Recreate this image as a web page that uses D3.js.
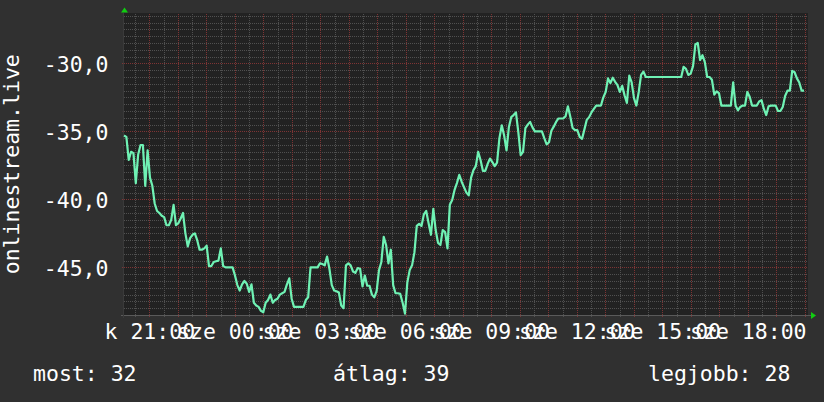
<!DOCTYPE html>
<html><head><meta charset="utf-8">
<script src="https://cdn.jsdelivr.net/npm/d3@7"></script>
<style>
html,body{margin:0;padding:0;background:#303030;}
svg{display:block;}
text{font-family:"DejaVu Sans Mono",monospace;fill:#ffffff;}
</style></head><body>
<svg id="c" width="824" height="402"></svg>
<script>
// ---- data ----
const yTitle = "onlinestream.live";
const values = [
-35.3,-35.4,-37.1,-36.5,-36.6,-38.8,-36.7,-36.0,-36.0,-39.0,
-36.4,-38.4,-39.0,-40.3,-40.85,-41.0,-41.2,-41.3,-41.9,-41.9,
-41.5,-40.4,-41.9,-41.75,-41.4,-41.0,-42.5,-43.45,-42.85,-42.6,
-42.5,-43.0,-43.7,-43.7,-43.6,-43.4,-44.9,-44.9,-44.6,-44.55,
-44.5,-43.6,-44.9,-45.0,-45.0,-45.0,-45.0,-45.6,-46.3,-46.7,
-46.25,-46.0,-46.2,-46.8,-46.25,-47.6,-47.8,-47.9,-48.2,-48.3,
-47.6,-47.4,-47.0,-47.6,-47.4,-47.3,-47.0,-46.9,-46.8,-46.25,
-45.8,-47.3,-47.9,-47.9,-47.9,-47.9,-47.9,-47.4,-47.2,-45.0,
-45.0,-45.0,-45.0,-44.7,-44.75,-44.85,-44.2,-45.1,-46.3,-46.7,
-46.75,-46.85,-47.8,-48.0,-44.85,-44.7,-44.85,-45.3,-45.4,-45.05,
-45.1,-46.4,-45.6,-46.35,-46.35,-47.0,-47.2,-46.75,-45.2,-44.6,
-42.75,-43.35,-44.7,-43.7,-46.3,-46.9,-46.9,-46.95,-47.6,-48.4,
-46.1,-45.2,-44.85,-43.9,-41.95,-41.8,-41.95,-41.1,-40.85,-41.75,
-42.6,-40.7,-42.25,-43.2,-43.35,-42.25,-42.4,-43.6,-40.4,-40.05,
-39.3,-38.8,-38.2,-38.7,-39.1,-39.5,-39.7,-38.4,-37.85,-37.55,
-36.5,-37.1,-37.9,-37.9,-37.4,-37.0,-37.25,-37.55,-37.3,-35.5,
-34.55,-35.3,-36.4,-34.7,-33.95,-33.8,-33.6,-35.05,-36.75,-36.5,
-34.75,-34.5,-34.3,-34.7,-35.0,-35.0,-35.0,-35.0,-35.5,-35.95,
-35.8,-34.95,-34.65,-34.3,-34.05,-34.05,-34.05,-33.9,-33.15,-33.9,
-34.75,-34.9,-34.9,-35.4,-35.55,-34.85,-34.15,-33.95,-33.6,-33.35,
-33.1,-33.1,-33.1,-32.5,-32.1,-31.1,-31.45,-31.05,-31.35,-31.6,
-32.1,-31.65,-32.35,-32.9,-30.9,-31.4,-32.55,-33.1,-32.1,-30.85,
-30.6,-31.0,-31.0,-31.0,-31.0,-31.0,-31.0,-31.0,-31.0,-31.0,
-31.0,-31.0,-31.0,-31.0,-31.0,-31.0,-31.0,-30.25,-30.4,-30.85,
-30.75,-30.2,-28.6,-28.5,-29.75,-29.4,-29.9,-31.0,-31.0,-31.2,
-32.3,-32.05,-32.2,-33.1,-33.1,-33.1,-33.1,-33.1,-31.4,-33.1,
-33.45,-33.2,-33.1,-33.1,-32.1,-32.45,-33.1,-33.1,-33.1,-32.8,
-32.7,-33.35,-33.8,-33.15,-33.1,-33.1,-33.1,-33.5,-33.5,-33.2,
-32.4,-32.0,-32.0,-30.55,-30.65,-31.1,-31.4,-32.0,-32.0
];
const yTicks = [-45, -40, -35, -30];
const xTickLabels = ["k 21:00","sze 00:00","sze 03:00","sze 06:00","sze 09:00","sze 12:00","sze 15:00","sze 18:00"];
const firstTick = new Date(2024, 0, 9, 21, 0, 0);   // kedd 21:00
const tickStepHours = 3;
const legendLabels = ["most: 32", "átlag: 39", "legjobb: 28"];
const viewStart = new Date(2024, 0, 9, 20, 6, 45);
const viewHours = 24;
const stepMs = 298246;   // sample spacing
const yDomain = [-48.5, -26.33];

// ---- layout ----
const W = 824, H = 402;
const L = 124, R = 808, T = 13.5, B = 315;
const FS = 21.5;
const svg = d3.select("#c");
svg.append("rect").attr("width", W).attr("height", H).attr("fill", "#303030");

const x = d3.scaleTime().domain([viewStart, new Date(+viewStart + viewHours*3600e3)]).range([L, R]);
const y = d3.scaleLinear().domain(yDomain).range([B, T]);

// canvas
svg.append("rect").attr("x", L).attr("y", 13).attr("width", R - L).attr("height", B - 13).attr("fill", "#222222");

const grid = svg.append("g").attr("shape-rendering", "crispEdges");
const px = v => Math.round(v) + 0.5;
// minor horizontal
const minorY = d3.range(-48, -26.4, 0.5).filter(v => Math.abs(v % 5) > 1e-6);
grid.selectAll(".hmin").data(minorY).join("line")
  .attr("x1", L).attr("x2", R)
  .attr("y1", d => px(y(d))).attr("y2", d => px(y(d)))
  .attr("stroke", "#505050").attr("stroke-dasharray", "1,1");
// minor vertical (30 min)
const minorX = d3.timeMinute.every(30).range(x.domain()[0], x.domain()[1]).filter(d => d.getMinutes() !== 0);
grid.selectAll(".vmin").data(minorX).join("line")
  .attr("y1", 14).attr("y2", 318)
  .attr("x1", d => px(x(d))).attr("x2", d => px(x(d)))
  .attr("stroke", "#505050").attr("stroke-dasharray", "1,1");
// major vertical (hour)
const majorX = d3.timeHour.every(1).range(x.domain()[0], x.domain()[1]);
grid.selectAll(".vmaj").data(majorX).join("line")
  .attr("y1", 14).attr("y2", 318)
  .attr("x1", d => px(x(d))).attr("x2", d => px(x(d)))
  .attr("stroke", "#7e3434").attr("stroke-dasharray", "1,1");
// major horizontal
grid.selectAll(".hmaj").data(yTicks).join("line")
  .attr("x1", L - 2).attr("x2", R)
  .attr("y1", d => px(y(d))).attr("y2", d => px(y(d)))
  .attr("stroke", "#7e3434").attr("stroke-dasharray", "1,1");

// axis lines
grid.append("line").attr("x1", L - 3).attr("x2", R + 3).attr("y1", B + 0.5).attr("y2", B + 0.5).attr("stroke", "#5a5a5a");
grid.append("line").attr("x1", L - 0.5).attr("x2", L - 0.5).attr("y1", 13).attr("y2", B + 3).attr("stroke", "#3a3a3a");

// data line
const pts = values.map((v, i) => ({t: new Date(+viewStart + i*stepMs), v}));
svg.append("path").datum(pts)
  .attr("fill", "none").attr("stroke", "#6ff2b4").attr("stroke-width", 2.2)
  .attr("stroke-linejoin", "round")
  .attr("d", d3.line().x(d => x(d.t)).y(d => y(d.v)));

// arrows
svg.append("path").attr("d", `M${L-3},${T-1} L${L+0.5},${T-6} L${L+4},${T-1} Z`).attr("fill", "#11cc11");
svg.append("path").attr("d", `M${R+3},${B-3} L${R+8},${B+0.5} L${R+3},${B+4} Z`).attr("fill", "#11cc11");

// y axis
const loc = d3.formatLocale({decimal: ",", thousands: " ", grouping: [3], currency: ["", ""], minus: "-"});
const fmt = loc.format(".1f");
const ya = svg.append("g").attr("transform", `translate(${L},0)`)
  .call(d3.axisLeft(y).tickValues(yTicks).tickFormat(fmt).tickSize(0));
ya.select(".domain").remove();
ya.selectAll("text").attr("x", -15.5).attr("dy", "0.36em")
  .style("font-family", '"DejaVu Sans Mono",monospace').style("font-size", FS + "px").attr("fill", "#fff");

// x axis
const tickDates = xTickLabels.map((_, i) => new Date(+firstTick + i*tickStepHours*3600e3));
const xa = svg.append("g").attr("transform", `translate(0,${B})`)
  .call(d3.axisBottom(x).tickValues(tickDates).tickFormat((d, i) => xTickLabels[i]).tickSize(0));
xa.select(".domain").remove();
xa.selectAll("text").attr("y", 23.5).attr("dy", 0)
  .style("font-family", '"DejaVu Sans Mono",monospace').style("font-size", FS + "px").attr("fill", "#fff");

// y title
svg.append("text").attr("transform", `translate(18.5,${(T + B)/2}) rotate(-90)`)
  .attr("text-anchor", "middle").style("font-size", FS + "px").text(yTitle);

// legend
const legX = [33, 333, 648];
svg.selectAll(".leg").data(legendLabels).join("text")
  .attr("x", (d, i) => legX[i]).attr("y", 381).style("font-size", FS + "px").text(d => d);
</script>
</body></html>
